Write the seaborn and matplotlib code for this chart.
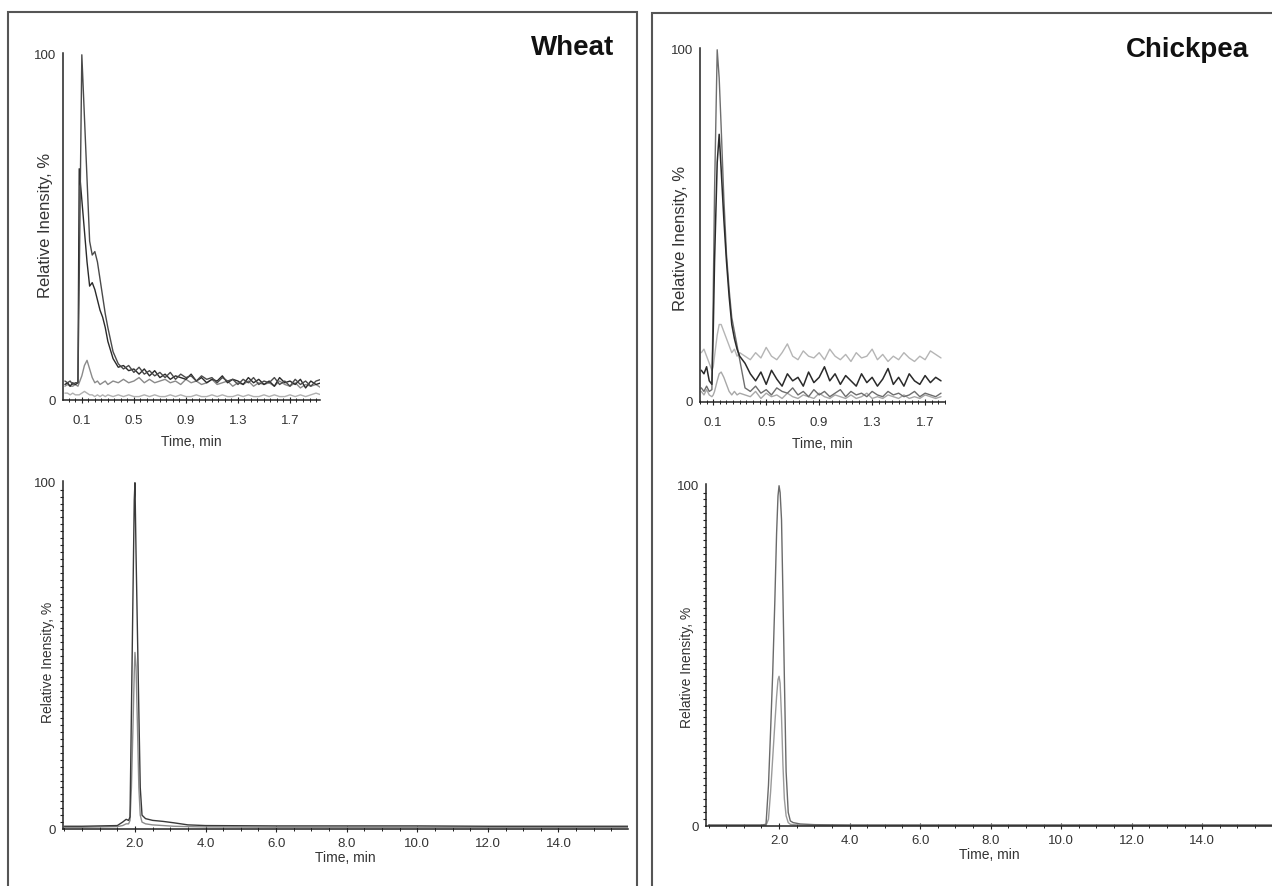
import matplotlib
matplotlib.use("Agg")
import matplotlib.pyplot as plt
import matplotlib.patches as mpatches
from matplotlib.ticker import MultipleLocator
import seaborn as sns

# ---------------- data ----------------
# top insets: early part of the run, time in min, relative intensity in %
wheat_inset_time = [-0.03, -0.01, 0.01, 0.03, 0.05, 0.07, 0.08, 0.10, 0.12, 0.14, 0.16, 0.18,
                    0.20, 0.22, 0.24, 0.26, 0.28, 0.30,
                    0.34, 0.38, 0.42, 0.46, 0.50, 0.54, 0.58, 0.62, 0.66, 0.70, 0.74, 0.78,
                    0.82, 0.86, 0.90, 0.94, 0.98, 1.02, 1.06, 1.10, 1.14, 1.18, 1.22, 1.26,
                    1.30, 1.34, 1.38, 1.42, 1.46, 1.50, 1.54, 1.58, 1.62, 1.66, 1.70, 1.74,
                    1.78, 1.82, 1.86, 1.90, 1.94]
wheat_inset_a = [5.5, 5, 5.5, 4.5, 5, 5, 35, 100, 82, 64, 46, 42, 43, 40, 35, 30, 25, 21,
                 14, 10.5, 9, 10, 8, 9.5, 7.5, 8.5, 7, 8, 6.5, 8, 6, 7.5, 6.5, 7, 5.5, 7, 6, 6.5,
                 5, 6.5, 5.5, 6, 4.5, 6, 5, 6.5, 4.5, 5.5, 5, 6.5, 4.5, 5.5, 4, 6, 4.5, 5.5, 4,
                 5.5, 6]
wheat_inset_b = [4.5, 5, 4, 5, 4.5, 5, 67, 58, 49, 40, 33, 34, 32, 29, 26, 24, 21, 17,
                 12, 9.5, 10, 8.5, 9, 7.5, 9, 7, 8.5, 6.5, 7.5, 6, 7, 6.5, 6, 7.5, 5.5, 6.5, 5,
                 6, 5.5, 7, 5, 6, 5.5, 4.5, 6.5, 5, 6, 4.5, 5.5, 4, 6.5, 5, 5.5, 4.5, 6, 3.5,
                 5.5, 4.5, 5]
wheat_inset_c = [4, 4.5, 4, 4, 4.5, 4, 5, 7, 10, 11.5, 9, 6.5, 5, 5.5, 4.5, 5, 5.5, 4.5,
                 5.5, 5, 6, 5, 5.5, 6.5, 5, 6, 5, 5.5, 6, 5, 5.5, 4.5, 6, 5, 5.5, 4.5, 5, 6,
                 4.5, 5, 5.5, 4, 5, 4.5, 5.5, 4, 5, 4.5, 5, 4, 5.5, 4.5, 4, 5, 3.5, 4.5, 4,
                 4.5, 3.5]
wheat_inset_d = [2, 2, 1.5, 2, 1.5, 1.5, 1.5, 2, 2.5, 2, 1.5, 1.5, 1, 1.5, 1, 1.5, 1, 1.5,
                 1, 1.5, 1, 1.5, 1, 1, 1.5, 1, 1.5, 1, 1, 1.5, 1, 1.5, 1, 1, 1.5, 1, 1, 1.5,
                 1, 1.5, 1, 1, 1.5, 1, 1.5, 1, 1, 1.5, 1, 1.5, 1, 1, 1.5, 1, 1.5, 1, 1.5, 2,
                 1.5]

chick_inset_time = [0.01, 0.03, 0.05, 0.07, 0.09, 0.10, 0.11, 0.13, 0.145, 0.16, 0.18, 0.20,
                    0.22, 0.24, 0.26, 0.28, 0.30,
                    0.34, 0.38, 0.42, 0.46, 0.50, 0.54, 0.58, 0.62, 0.66, 0.70, 0.74, 0.78,
                    0.82, 0.86, 0.90, 0.94, 0.98, 1.02, 1.06, 1.10, 1.14, 1.18, 1.22, 1.26,
                    1.30, 1.34, 1.38, 1.42, 1.46, 1.50, 1.54, 1.58, 1.62, 1.66, 1.70, 1.74,
                    1.78, 1.82]
chick_inset_a = [4, 3, 4.5, 3, 3.5, 30, 60, 100, 92, 78, 58, 42, 32, 24, 20, 16, 12,
                 4, 3, 4.5, 2.5, 3.5, 2, 4, 3, 2.5, 4, 2, 3, 1.5, 3.5, 2, 3, 1.5, 2.5, 3.5,
                 1.5, 3, 2, 2.5, 1.5, 3, 2, 1.5, 3, 2, 2.5, 1.5, 2, 3, 1.5, 2.5, 2, 1.5, 2.5]
chick_inset_b = [9, 8, 10, 6, 5, 20, 40, 68, 76, 66, 52, 40, 30, 22, 18, 15, 13,
                 11, 8, 6, 8.5, 5, 9, 6.5, 4.5, 8, 6, 7, 4.5, 8.5, 5.5, 7, 10, 6, 8, 5, 7.5,
                 6, 4.5, 8, 5.5, 7, 4.5, 6.5, 9.5, 5, 7, 4.5, 8, 6, 5, 7.5, 5.5, 7, 6]
chick_inset_c = [14, 15, 13, 11, 9, 10, 13, 19, 22, 22, 20, 18, 16, 14, 15, 13, 14,
                 13, 12, 14, 12.5, 15.5, 13, 12, 14, 16.5, 13, 12, 14.5, 13, 12.5, 14, 12,
                 15, 13, 12, 13.5, 11.5, 14, 12.5, 13, 15, 12, 13.5, 11.5, 13, 12, 14, 12.5,
                 11.5, 13, 12, 14.5, 13.5, 12.5]
chick_inset_d = [3, 2, 3.5, 2, 1.5, 2, 3, 6, 8, 8.5, 7, 5, 3, 2, 3, 2, 2.5,
                 2, 1.5, 3, 1, 2.5, 1.5, 2, 1, 2.5, 1.5, 1, 2, 1.5, 1, 2.5, 1.5, 1, 2, 1.5,
                 1, 2, 1, 1.5, 2.5, 1, 1.5, 1, 2, 1.5, 1, 2, 1, 1.5, 1, 2, 1.5, 1, 1.5]

# bottom panels: full run
wheat_time = [0.0, 0.5, 1.0, 1.5, 1.65, 1.75, 1.82, 1.86, 1.90, 1.94, 1.98, 2.00, 2.03, 2.07,
              2.11, 2.15, 2.20, 2.30, 2.50, 2.80, 3.10, 3.50, 4.0, 6.0, 8.0, 10.0, 12.0,
              14.0, 16.0]
wheat_peak_a = [0.8, 0.8, 0.9, 1.0, 2.0, 2.8, 2.5, 3.5, 34, 65, 95, 100, 80, 57, 34, 12, 4,
                3, 2.5, 2.2, 1.8, 1.2, 1, 0.9, 0.9, 0.9, 0.8, 0.8, 0.8]
wheat_peak_b = [0.5, 0.5, 0.6, 0.7, 1.0, 1.5, 1.5, 2.5, 12, 28, 45, 51, 47, 30, 12, 4, 2,
                1.5, 1.2, 1.0, 0.8, 0.7, 0.6, 0.5, 0.5, 0.5, 0.5, 0.5, 0.5]

chick_time = [0.0, 0.5, 1.0, 1.5, 1.63, 1.70, 1.76, 1.82, 1.88, 1.93, 1.97, 2.00, 2.03, 2.07,
              2.11, 2.15, 2.20, 2.26, 2.32, 2.40, 2.60, 3.00, 4.0, 6.0, 8.0, 10.0, 12.0,
              14.0, 16.0]
chick_peak_a = [0.3, 0.3, 0.3, 0.3, 0.5, 12, 28, 45, 66, 86, 97, 100, 98, 90, 68, 44, 16, 4,
                1.5, 1, 0.6, 0.4, 0.3, 0.3, 0.3, 0.3, 0.3, 0.3, 0.3]
chick_peak_b = [0.2, 0.2, 0.2, 0.2, 0.2, 2, 10, 20, 30, 38, 43, 44, 42, 32, 18, 8, 3, 1, 0.5,
                0.4, 0.3, 0.2, 0.2, 0.2, 0.2, 0.2, 0.2, 0.2, 0.2]

inset_ticks = [0.1, 0.5, 0.9, 1.3, 1.7]
main_ticks = [2, 4, 6, 8, 10, 12, 14]
panel_titles = ["Wheat", "Chickpea"]
ylab = "Relative Inensity, %"
xlab = "Time, min"

# ---------------- style ----------------
sns.set_style("white")
plt.rcParams['font.family'] = ['Liberation Sans', 'DejaVu Sans']
txt = "#333333"

fig = plt.figure(figsize=(12.72, 8.86), dpi=100)

# the two boxed panels
fig.add_artist(mpatches.Rectangle((8 / 1272, -0.02), (637 - 8) / 1272, 1.02 - 12 / 886,
                                  transform=fig.transFigure, fill=False, ec="#555555", lw=1.5))
fig.add_artist(mpatches.Rectangle((652 / 1272, -0.02), 0.6, 1.02 - 13 / 886,
                                  transform=fig.transFigure, fill=False, ec="#555555", lw=1.5))


def style(ax, xlim, ticks, labels, xminor, yminor, lab_x, lab_y, ylab_size, xpad, xlabpad):
    ax.set_xlim(*xlim)
    ax.set_ylim(0, 100.5)
    for s in ["top", "right"]:
        ax.spines[s].set_visible(False)
    for s in ["left", "bottom"]:
        ax.spines[s].set_color("#222222")
        ax.spines[s].set_linewidth(1.1)
    ax.set_xticks(ticks)
    ax.set_xticklabels(labels)
    ax.set_yticks([0, 100])
    ax.set_yticklabels(["0", "100"])
    ax.xaxis.set_minor_locator(MultipleLocator(xminor))
    if yminor:
        ax.yaxis.set_minor_locator(MultipleLocator(yminor))
        ax.tick_params(axis="y", which="minor", left=True, length=2.5, width=0.8,
                       direction="out", color="#222222")
    ax.tick_params(axis="x", which="both", bottom=True, direction="inout", color="#222222")
    ax.tick_params(axis="x", which="major", length=5, width=0.8, pad=xpad)
    ax.tick_params(axis="x", which="minor", length=3.5, width=0.7)
    ax.tick_params(axis="y", which="major", left=False, length=0, pad=5)
    ax.tick_params(labelsize=9.5, labelcolor=txt)
    ax.set_xlabel(xlab, fontsize=10, color=txt, labelpad=xlabpad)
    ax.set_ylabel(ylab, fontsize=ylab_size, color=txt)
    ax.yaxis.set_label_coords(lab_x, lab_y)
    ax.set_facecolor("none")


inset_labels = ["0.1", "0.5", "0.9", "1.3", "1.7"]
main_labels = ["2.0", "4.0", "6.0", "8.0", "10.0", "12.0", "14.0"]

# wheat inset
ax1 = fig.add_axes([0.0495, 0.5485, 0.2020, 0.3916])
sns.lineplot(x=wheat_inset_time, y=wheat_inset_d, ax=ax1, color="#b0b0b0", lw=1.0)
sns.lineplot(x=wheat_inset_time, y=wheat_inset_c, ax=ax1, color="#8a8a8a", lw=1.0)
sns.lineplot(x=wheat_inset_time, y=wheat_inset_b, ax=ax1, color="#2a2a2a", lw=1.0)
sns.lineplot(x=wheat_inset_time, y=wheat_inset_a, ax=ax1, color="#4a4a4a", lw=1.0)
style(ax1, (-0.045, 1.93), inset_ticks, inset_labels, 0.05, None, -0.039, 0.504, 12, 8, 6)

# chickpea inset
ax2 = fig.add_axes([0.5503, 0.5463, 0.1926, 0.3995])
sns.lineplot(x=chick_inset_time, y=chick_inset_d, ax=ax2, color="#a8a8a8", lw=1.0)
sns.lineplot(x=chick_inset_time, y=chick_inset_c, ax=ax2, color="#b5b5b5", lw=1.0)
sns.lineplot(x=chick_inset_time, y=chick_inset_a, ax=ax2, color="#6e6e6e", lw=1.0)
sns.lineplot(x=chick_inset_time, y=chick_inset_b, ax=ax2, color="#2a2a2a", lw=1.1)
style(ax2, (0.0, 1.85), inset_ticks, inset_labels, 0.05, None, -0.049, 0.463, 12, 8, 6)

# wheat full run
ax3 = fig.add_axes([0.0495, 0.0643, 0.4442, 0.3928])
sns.lineplot(x=wheat_time, y=wheat_peak_b, ax=ax3, color="#8c8c8c", lw=1.0)
sns.lineplot(x=wheat_time, y=wheat_peak_a, ax=ax3, color="#3a3a3a", lw=1.0)
style(ax3, (-0.04, 15.97), main_ticks, main_labels, 0.5, 2, -0.014, 0.48, 10, 4, 1)

# chickpea full run
ax4 = fig.add_axes([0.5548, 0.0677, 0.4458, 0.3860])
sns.lineplot(x=chick_time, y=chick_peak_b, ax=ax4, color="#9a9a9a", lw=1.0)
sns.lineplot(x=chick_time, y=chick_peak_a, ax=ax4, color="#6a6a6a", lw=1.0)
style(ax4, (-0.08, 16.0), main_ticks, main_labels, 0.5, 2, -0.021, 0.465, 10, 4, 1)

fig.text(573 / 1272, 1 - 48 / 886, panel_titles[0], ha="center", va="center",
         fontsize=20, fontweight="bold", color="#111111")
fig.text(1187 / 1272, 1 - 50 / 886, panel_titles[1], ha="center", va="center",
         fontsize=20, fontweight="bold", color="#111111")

fig.savefig("out.png", dpi=100)
